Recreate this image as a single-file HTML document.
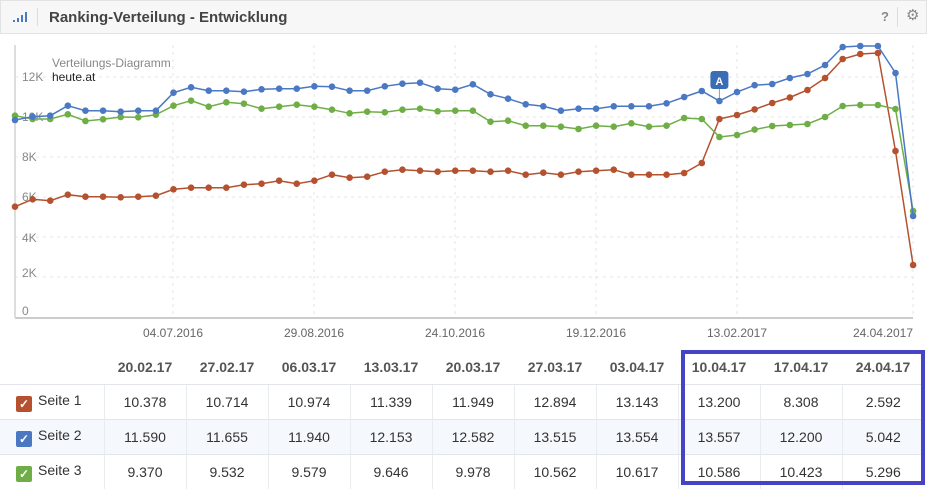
<!DOCTYPE html>
<html><head><meta charset="utf-8"><style>
body{margin:0;width:927px;height:489px;background:#fff;font-family:"Liberation Sans",sans-serif;overflow:hidden;position:relative}
.hdr{position:absolute;left:0;top:0;width:925px;height:32px;background:#f7f7f7;border:1px solid #e3e3e3}
.hdr .t{position:absolute;left:48px;top:8px;font-size:15px;font-weight:bold;color:#444}
.sep{position:absolute;left:36px;top:7px;width:1px;height:18px;background:#ddd}
table{position:absolute;left:0;top:350px;border-collapse:collapse;font-size:14px;color:#333}
td,th{height:34px;text-align:center;padding:0}
th{font-weight:bold;color:#555;height:34px}
td{border-top:1px solid #e2e6ea;border-left:1px solid #e8ecef}
td.l{border-left:none;text-align:left;padding-left:16px}
tr.b td{background:#f5f9fd}
.cb{display:inline-block;width:16px;height:16px;border-radius:2px;vertical-align:-3px;margin-right:6px;color:#fff;font-size:12px;line-height:16px;text-align:center;font-weight:bold}
.box{position:absolute;left:681px;top:350px;width:236px;height:127px;border:4px solid #4444c4}
</style></head><body>
<div class="hdr"><svg style="position:absolute;left:12px;top:10px" width="16" height="12"><rect x="0" y="9" width="2" height="2" fill="#4a78c2"/><rect x="4" y="7" width="2" height="4" fill="#4a78c2"/><rect x="8" y="4" width="2" height="7" fill="#4a78c2"/><rect x="12" y="1" width="2" height="10" fill="#4a78c2"/></svg><div class="sep"></div><div class="t">Ranking-Verteilung - Entwicklung</div>
<div style="position:absolute;left:880px;top:8px;font-size:13px;font-weight:bold;color:#888">?</div><div style="position:absolute;left:896px;top:6px;width:1px;height:20px;background:#ddd"></div><div style="position:absolute;left:905px;top:5px;font-size:15px;color:#888">⚙</div></div>
<svg id="ch" style="position:absolute;left:0;top:33px" width="927" height="317"></svg>
<table>
<tr><th style="width:104px"></th><th style="width:82px">20.02.17</th><th style="width:82px">27.02.17</th><th style="width:82px">06.03.17</th><th style="width:82px">13.03.17</th><th style="width:82px">20.03.17</th><th style="width:82px">27.03.17</th><th style="width:82px">03.04.17</th><th style="width:82px">10.04.17</th><th style="width:82px">17.04.17</th><th style="width:82px">24.04.17</th></tr>
<tr><td class="l"><span class="cb" style="background:#b5512f">✓</span>Seite 1</td><td>10.378</td><td>10.714</td><td>10.974</td><td>11.339</td><td>11.949</td><td>12.894</td><td>13.143</td><td>13.200</td><td>8.308</td><td>2.592</td></tr>
<tr class="b"><td class="l"><span class="cb" style="background:#4a78c2">✓</span>Seite 2</td><td>11.590</td><td>11.655</td><td>11.940</td><td>12.153</td><td>12.582</td><td>13.515</td><td>13.554</td><td>13.557</td><td>12.200</td><td>5.042</td></tr>
<tr><td class="l"><span class="cb" style="background:#6fae46">✓</span>Seite 3</td><td>9.370</td><td>9.532</td><td>9.579</td><td>9.646</td><td>9.978</td><td>10.562</td><td>10.617</td><td>10.586</td><td>10.423</td><td>5.296</td></tr>
</table>
<div class="box"></div>
<script>
var B=[120,116.7,115.7,105.7,110.7,110.7,111.7,110.7,110.7,92.7,87.3,90.7,90.7,91.7,89.3,88.7,88.7,86.3,86.7,90.7,90.7,86.3,83.7,82.7,88.7,89.7,84.3,94.3,98.7,104.3,106.3,110.7,108.7,108.7,106.3,106.3,106.3,103.3,97,91,101,92,85.2,84,78,74,65,47,46,46,73,216];
var G=[115.7,119,119,114.3,121,119.3,117,117.3,114.7,105.7,100.7,106.7,102.3,103.7,108.7,106.7,104.7,106.7,109.7,113.3,111.7,112.3,109.7,108.7,111.3,110.7,110.7,121.7,120.7,125.7,125.7,126.7,129,125.7,126.7,123.3,126.7,125.7,118,119,137,135,129.6,126,125,124,117,106,105,105,109,211];
var R=[206.7,199.3,200.7,194.7,196.7,196.7,197.3,196.7,195.7,189.3,187.7,187.7,187.7,184.7,183.7,180.7,183.7,180.7,174.7,177.7,176.7,171.7,169.7,170.7,171.7,170.7,170.7,171.7,170.7,174.7,172.7,174.7,171.7,170.7,169.7,174.7,174.7,174.7,173,163,119,115,109.4,103,97.5,90,78,59,54,53,151,265];
var s='',o=-33;
function X(i){return 15+i*17.61}
for(var k=0;k<=6;k++){var y=317-k*40+o;if(k>0)s+='<line x1="15" x2="913" y1="'+y+'" y2="'+y+'" stroke="#e4e4e4" stroke-dasharray="3,4"/>';}
var d=[[173,'04.07.2016'],[314,'29.08.2016'],[455,'24.10.2016'],[596,'19.12.2016'],[737,'13.02.2017'],[913,'24.04.2017']];
d.forEach(function(a){s+='<line x1="'+a[0]+'" x2="'+a[0]+'" y1="'+(45+o)+'" y2="'+(318+o)+'" stroke="#e4e4e4" stroke-dasharray="3,4"/><text x="'+a[0]+'" y="'+(337+o)+'" font-size="12" fill="#666" text-anchor="'+(a[0]>900?'end':'middle')+'">'+a[1]+'</text>'});
s+='<line x1="15" x2="913" y1="'+(318+o)+'" y2="'+(318+o)+'" stroke="#ccc" stroke-width="2"/><line x1="15" x2="15" y1="'+(45+o)+'" y2="'+(318+o)+'" stroke="#ddd" stroke-width="2"/>';
[['0',315],['2K',277],['4K',242],['6K',201],['8K',161],['10K',121],['12K',81]].forEach(function(a){s+='<text x="22" y="'+(a[1]+o)+'" font-size="12" fill="#888">'+a[0]+'</text>'});
s+='<text x="52" y="'+(67+o)+'" font-size="12" fill="#888">Verteilungs-Diagramm</text><text x="52" y="'+(81+o)+'" font-size="12" fill="#222">heute.at</text>';
function ser(a,c){var p=a.map(function(v,i){return X(i).toFixed(1)+','+(v+o).toFixed(1)}).join(' ');s+='<polyline points="'+p+'" fill="none" stroke="'+c+'" stroke-width="1.5"/>';a.forEach(function(v,i){s+='<circle cx="'+X(i)+'" cy="'+(v+o)+'" r="3.3" fill="'+c+'"/>'})}
s+='<line x1="'+X(40)+'" x2="'+X(40)+'" y1="'+(88+o)+'" y2="'+(101+o)+'" stroke="#999"/>';
ser(R,'#b5512f');ser(G,'#6fae46');ser(B,'#4a78c2');
s+='<rect x="'+(X(40)-9)+'" y="'+(71+o)+'" width="18" height="18" rx="3" fill="#3a6db5"/><text x="'+X(40)+'" y="'+(85+o)+'" font-size="11" font-weight="bold" fill="#fff" text-anchor="middle">A</text>';
document.getElementById('ch').innerHTML=s;
</script>
</body></html>
